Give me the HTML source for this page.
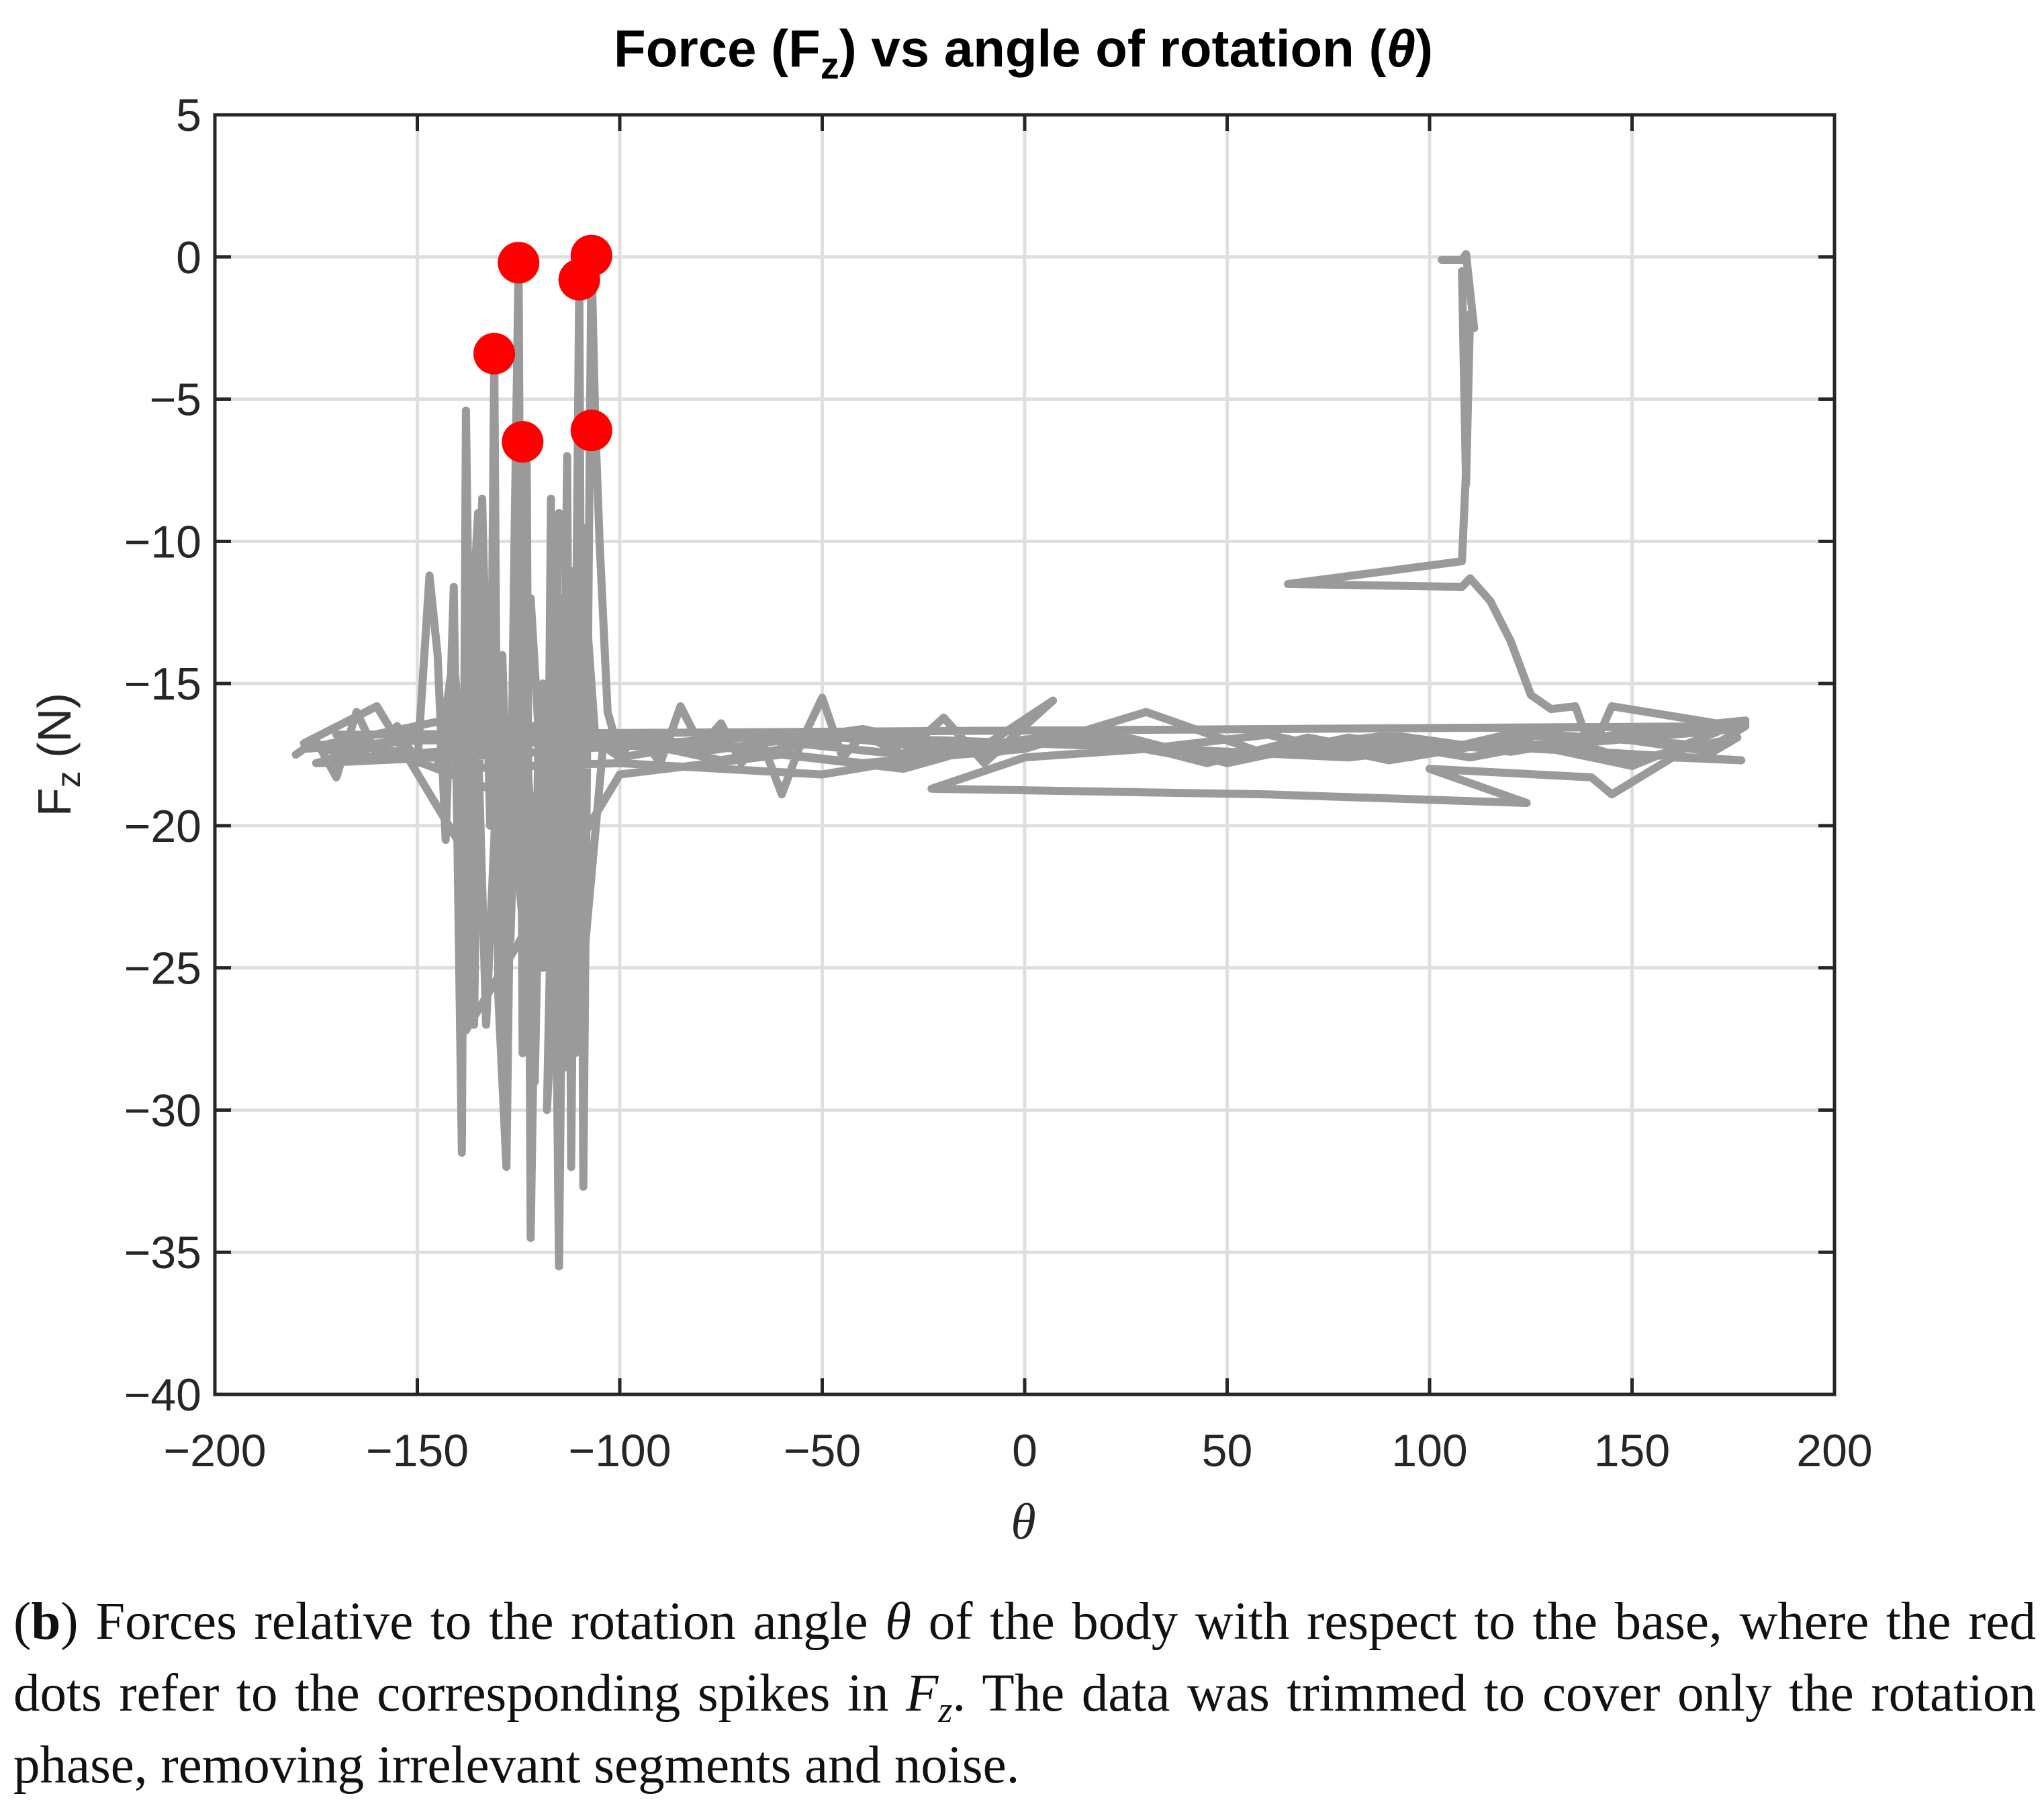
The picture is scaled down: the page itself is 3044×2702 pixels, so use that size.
<!DOCTYPE html>
<html><head><meta charset="utf-8"><style>
html,body{margin:0;padding:0;background:#fff;}
body{width:3044px;height:2702px;overflow:hidden;position:relative;}
svg{position:absolute;left:0;top:0;}
.cap{position:absolute;left:20px;top:2362px;width:3012px;font-family:"Liberation Serif",serif;font-size:79px;line-height:107px;color:#111;text-align:justify;}
.cap sub{font-size:54px;line-height:0;}
</style></head><body>
<svg id="chart" width="3044" height="2340" xmlns="http://www.w3.org/2000/svg" font-family="Liberation Sans, sans-serif">
<g id="grid"></g>
<g id="series"></g>
<g id="dots"></g>
<rect x="320" y="171" width="2412" height="1906" fill="none" stroke="#262626" stroke-width="5"/>
<g id="ticks"></g>
<text x="1524" y="99" text-anchor="middle" font-size="78" font-weight="bold">Force (F<tspan font-size="56" dy="18">z</tspan><tspan dy="-18">) vs angle of rotation (</tspan><tspan font-style="italic">θ</tspan>)</text>
<text x="1524" y="2292" text-anchor="middle" font-size="76" font-style="italic" font-family="Liberation Serif, serif" fill="#262626">θ</text>
<text transform="translate(105,1124) rotate(-90)" text-anchor="middle" font-size="70" fill="#262626">F<tspan font-size="50" dy="14">z</tspan><tspan dy="-14"> (N)</tspan></text>
</svg>
<div class="cap">(<b>b</b>) Forces relative to the rotation angle <i>θ</i> of the body with respect to the base, where the red dots refer to the corresponding spikes in <i>F<sub>z</sub></i>. The data was trimmed to cover only the rotation phase, removing irrelevant segments and noise.</div>
<script>
const xTicks=[-200,-150,-100,-50,0,50,100,150,200];
const yTicks=[5,0,-5,-10,-15,-20,-25,-30,-35,-40];
const theta=[-180,-175,-170,-165,-160,-155,-150,-147,-145,-143,-141,-139,-138,-136,-134,-132,-131,-130,-128,-126,-125,-124,-123,-122,-120,-118,-117,-115,-113,-112,-110,-109,-107,-106,-105,-103,-100,-95,-90,-85,-80,-75,-70,-65,-60,-55,-50,-45,-40,-30,-20,-10,0,7,-10,-30,-60,-100,-138,-135,-140,-133,-128,-130,-121,-126,-119,-115,-118,-111,-113,-108,-110,-104,-150,-178,-140,-90,-40,0,30,60,90,120,150,178,150,120,90,60,30,0,-23,60,124,100,140,145,160,177,140,100,50,0,-50,-100,-145,-141,-137,-132,-127,-122,-117,-113,-108,-160,-175,-130,-60,20,80,130,170,178,
-170,-150,-120,-80,-40,-10,20,50,80,110,140,170,
176,150,125,95,70,45,15,-15,-45,-75,-105,-135,-165,-178,
-160,-138,-136,-133,-129,-127,-124,-121,-119,-116,-114,-111,-109,-106,
-100,-70,-30,10,45,85,115,145,175,178,
175,145,140,136,130,125,120,115,110,108,65,108,109,108,109,110,111,109,108,103];
const fz=[-17.5,-17,-18.3,-16,-17.5,-16.5,-17.8,-11.2,-14,-20.5,-11.6,-31.5,-5.4,-27,-8.5,-20,-3.4,-26,-32,-10,-0.2,-28,-6.5,-34.5,-16,-25,-8.5,-35.5,-7,-32,-0.8,-32.7,0.05,-6.1,-10,-16,-17.5,-16.8,-17.8,-15.8,-17.2,-16.4,-17.8,-17,-18.9,-17,-15.5,-17.6,-16.8,-17.5,-16.2,-17.8,-16.5,-15.6,-17.2,-18,-17.5,-18.2,-27.2,-9,-22,-12,-29.5,-14,-28,-12,-25,-9,-30,-11,-28.5,-9.5,-26.5,-17,-17,-17.3,-16.2,-17,-17.8,-17.3,-16,-17.5,-16.8,-17.4,-16.7,-16.3,-17.9,-17,-17.7,-16.8,-17.3,-17.6,-18.7,-18.9,-19.2,-18,-18.3,-18.9,-17.6,-17.7,-17.4,-17.1,-17.5,-17,-18.2,-17.8,-18,-14,-22,-13,-23,-12,-24,-13,-20,-17.2,-17.8,-17.5,-16.8,-17.2,-17.6,-16.8,-17.2,-16.5,
-16.8,-17.6,-16.9,-17.4,-16.6,-17.5,-16.7,-17.8,-16.9,-17.6,-16.8,-17.4,
-16.9,-17.7,-16.6,-17.6,-16.9,-17.8,-16.7,-17.4,-16.9,-17.7,-16.8,-17.3,-17.6,-17.1,
-15.8,-21,-12,-27,-14,-24,-10,-29,-15,-26,-12,-28,-11,-17,
-17.6,-16.9,-17.5,-16.8,-17.7,-16.9,-17.3,-17,-16.6,-16.4,
-16.5,-15.8,-17.4,-15.8,-15.9,-15.4,-13.5,-12.1,-11.3,-11.6,-11.5,-10.7,-7.5,-0.5,-8,-2,-2.5,0.1,-0.1,-0.1];
const dotTheta=[-131,-125,-124,-110,-107,-107];
const dotFz=[-3.4,-0.2,-6.5,-0.8,0.05,-6.1];
const X0=320,X1=2732,Y0=171,Y1=2077;
const sx=v=>X0+(v+200)/400*(X1-X0);
const sy=v=>Y0+(5-v)/45*(Y1-Y0);
const NS='http://www.w3.org/2000/svg';
function mk(tag,parent,attrs){const e=document.createElementNS(NS,tag);for(const k in attrs)e.setAttribute(k,attrs[k]);parent.appendChild(e);return e;}
const grid=document.getElementById('grid'),ticks=document.getElementById('ticks');
xTicks.forEach(t=>{
 const x=sx(t);
 if(t>-200&&t<200){const g=mk('line',grid,{x1:x,x2:x,y1:Y0,y2:Y1,stroke:'#dfdfdf','stroke-width':5});
 
 }
 const a=mk('line',ticks,{x1:x,x2:x,y1:Y1,y2:Y1-24,stroke:'#262626','stroke-width':5});
 
 
 const b=mk('line',ticks,{x1:x,x2:x,y1:Y0,y2:Y0+24,stroke:'#262626','stroke-width':5});
 
 
 const tx=mk('text',ticks,{x:x,y:2184,'text-anchor':'middle','font-size':68,fill:'#262626'});
 tx.textContent=t<0?'\u2212'+(-t):String(t);
 
 
});
yTicks.forEach(t=>{
 const y=sy(t);
 if(t<5&&t>-40){const g=mk('line',grid,{x1:X0,x2:X1,y1:y,y2:y,stroke:'#dfdfdf','stroke-width':5});
 
 }
 const a=mk('line',ticks,{x1:X0,x2:X0+24,y1:y,y2:y,stroke:'#262626','stroke-width':5});
 
 
 const b=mk('line',ticks,{x1:X1,x2:X1-24,y1:y,y2:y,stroke:'#262626','stroke-width':5});
 
 
 const tx=mk('text',ticks,{x:300,y:y+24,'text-anchor':'end','font-size':68,fill:'#262626'});
 tx.textContent=t<0?'\u2212'+(-t):String(t);
 
 
});
const n=Math.min(theta.length,fz.length);
const pts=theta.slice(0,n).map((t,i)=>sx(t).toFixed(1)+','+sy(fz[i]).toFixed(1)).join(' ');
const pl=mk('polyline',document.getElementById('series'),{points:pts,fill:'none',stroke:'#9a9a9a','stroke-width':12,'stroke-linejoin':'round','stroke-linecap':'round'});


dotTheta.forEach((t,i)=>{
 const c=mk('ellipse',document.getElementById('dots'),{cx:sx(t),cy:sy(dotFz[i]),rx:31,ry:31,fill:'#ff0000'});
 
 
});
</script>
</body></html>
